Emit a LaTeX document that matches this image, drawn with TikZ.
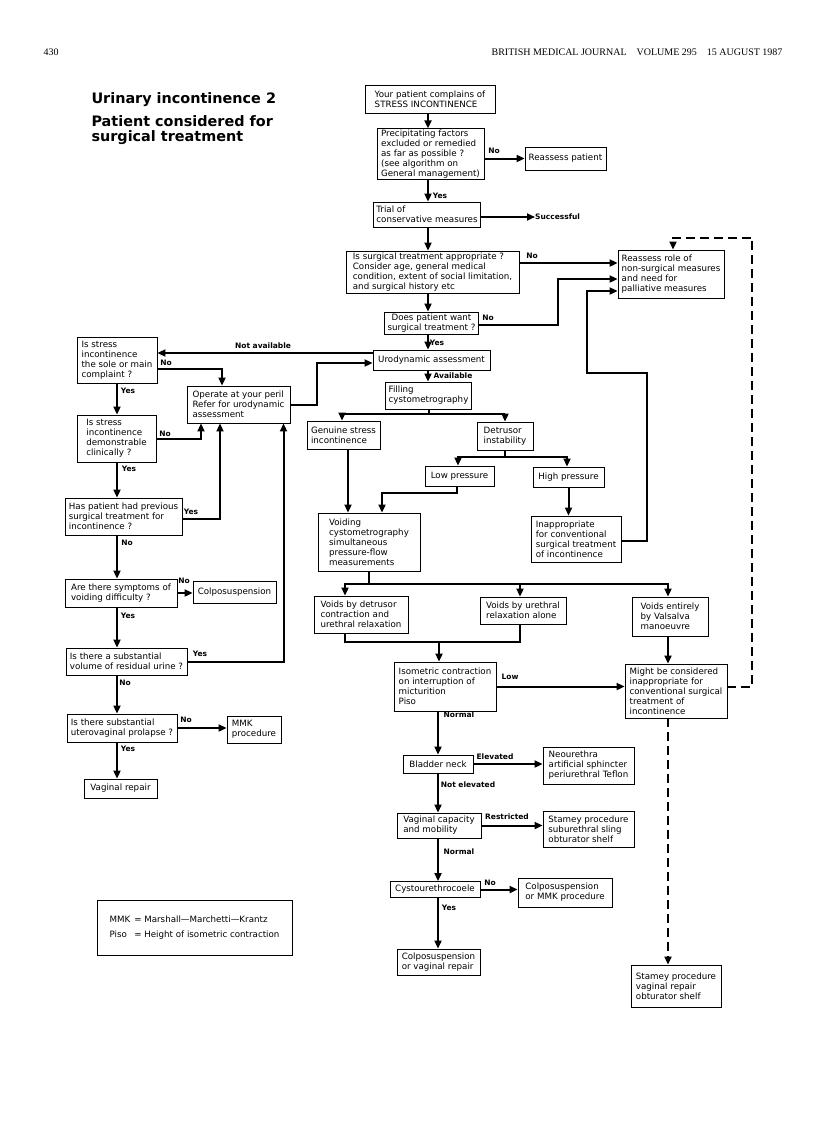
\documentclass[tikz,border=0pt]{standalone}
\usepackage{fontspec}
\setmainfont{DejaVu Sans}
\newfontfamily\jnlfont{Liberation Serif}
\usetikzlibrary{arrows.meta}

\newcommand\boxfont{\fontsize{8.7}{10}\selectfont}
\newcommand\labfont{\fontsize{7.5}{9}\selectfont\bfseries}
\newcommand\ttlfont{\fontsize{14.4}{14.6}\selectfont\bfseries}
\newcommand\hdfont{\jnlfont\fontsize{10}{12}\selectfont}

\tikzset{
  box/.style={draw,line width=0.9pt,inner xsep=3pt,inner ysep=1pt,align=left,font=\boxfont},
  lab/.style={font=\labfont,inner sep=0pt},
  link/.style={line width=2pt},
  flow/.style={link,-{Triangle[length=8pt,width=7pt]}},
  dashflow/.style={flow,dash pattern=on 9pt off 5pt}
}

\begin{document}
\begin{tikzpicture}[x=1pt,y=-1pt]
  \useasboundingbox (0,0) rectangle (816,1121);
  \fill[white] (0,0) rectangle (816,1121);

  % heading
  \node[anchor=base west,font=\hdfont] (page) at (40,56) {430};
  \node[anchor=base east,font=\hdfont] (jnl) at (786,56) {BRITISH MEDICAL JOURNAL\quad VOLUME 295\quad 15 AUGUST 1987};
  \node[anchor=base west,font=\ttlfont] (title) at (88,104) {Urinary incontinence 2};
  \node[anchor=base west,font=\ttlfont] (subtitle) at (88,127) {Patient considered for};
  \node[anchor=base west,font=\ttlfont] (subtitle2) at (88,141) {surgical treatment};

  \coordinate (col) at (428,0);
  \coordinate (lcol) at (117,0);
  \coordinate (bcol) at (438,0);

  % top column
  \node[box,minimum width=130,minimum height=28] (start) at (430,99) {Your patient complains of\\STRESS INCONTINENCE};
  \node[box,minimum width=107,minimum height=50] (precip) at (430.5,154) {Precipitating factors\\excluded or remedied\\as far as possible ?\\(see algorithm on\\General management)};
  \node[box,minimum width=81,minimum height=23] (reassp) at (565.5,158.5) {Reassess patient};
  \node[box,minimum width=100,minimum height=25] (trial) at (427,214.5) {Trial of\\conservative measures};
  \node[lab,anchor=west] (succ) at (535,217) {Successful};
  \node[box,minimum width=173,minimum height=42] (surg) at (432.5,272) {Is surgical treatment appropriate ?\\Consider age, general medical\\condition, extent of social limitation,\\and surgical history etc};
  \node[box,minimum width=106,minimum height=48] (reassr) at (671,274) {Reassess role of\\non-surgical measures\\and need for\\palliative measures};
  \node[box,minimum width=93,minimum height=22,align=center] (want) at (431.5,323) {Does patient want\\surgical treatment ?};
  \node[box,minimum width=117,minimum height=20,align=center] (urody) at (431.5,360) {Urodynamic assessment};

  \draw[flow] (start.south -| col) -- (precip.north -| col);
  \draw[flow] (precip.east |- reassp.west) -- (reassp.west);
  \draw[flow] (precip.south -| col) -- (trial.north -| col);
  \draw[flow] (succ.west -| trial.east) -- (succ.west);
  \draw[flow] (trial.south -| col) -- (surg.north -| col);
  \draw[flow] ([yshift=9pt]surg.east) -- ([yshift=9pt]surg.east -| reassr.west);
  \draw[flow] (surg.south -| col) -- (want.north -| col);
  \draw[flow] ([yshift=-2pt]want.east) -- ++(79,0) |- ([yshift=-5pt]reassr.west);
  \draw[flow] (want.south -| col) -- (urody.north -| col);
  \node[lab] at (494,151) {No}; \node[lab] at (440,196) {Yes};
  \node[lab] at (532,256) {No}; \node[lab] at (488,318) {No}; \node[lab] at (437,343) {Yes};

  % left column
  \node[box,minimum width=80,minimum height=46] (issole) at (117,360) {Is stress\\incontinence\\the sole or main\\complaint ?};
  \node[box,minimum width=103,minimum height=37] (operate) at (238.5,404.5) {Operate at your peril\\Refer for urodynamic\\assessment};
  \node[box,minimum width=79,minimum height=47] (isdemo) at (116.5,438.5) {Is stress\\incontinence\\demonstrable\\clinically ?};
  \node[box,minimum width=117,minimum height=37] (prevsurg) at (123.5,516.5) {Has patient had previous\\surgical treatment for\\incontinence ?};
  \node[box,minimum width=112,minimum height=28] (voiddiff) at (121,593) {Are there symptoms of\\voiding difficulty ?};
  \node[box,minimum width=83,minimum height=22] (colpo) at (234.5,592) {Colposuspension};
  \node[box,minimum width=121,minimum height=27] (residual) at (126.5,661.5) {Is there a substantial\\volume of residual urine ?};
  \node[box,minimum width=110,minimum height=28] (prolapse) at (122,728) {Is there substantial\\uterovaginal prolapse ?};
  \node[box,minimum width=54,minimum height=27] (mmk) at (254,729.5) {MMK\\procedure};
  \node[box,minimum width=73,minimum height=19] (vagrep) at (120.5,788.5) {Vaginal repair};

  \draw[flow] ([yshift=7pt]urody.west) -- ([yshift=7pt]urody.west -| issole.east);
  \draw[flow] ([yshift=-9pt]issole.east) -| ([xshift=-16.5pt]operate.north);
  \draw[flow] (operate.east) -- ++(27,0) |- ([yshift=-3pt]urody.west);
  \draw[flow] (isdemo.east) -| ([xshift=-37.5pt]operate.south);
  \draw[flow] ([yshift=-2.5pt]prevsurg.east) -| ([xshift=-18.5pt]operate.south);
  \draw[flow] (residual.east) -| ([xshift=45pt]operate.south);
  \draw[flow] (voiddiff.east) -- (voiddiff.east -| colpo.west);
  \draw[flow] (prolapse.east) -- (prolapse.east -| mmk.west);
  \draw[flow] (issole.south -| lcol) -- (isdemo.north -| lcol);
  \draw[flow] (isdemo.south -| lcol) -- (prevsurg.north -| lcol);
  \draw[flow] (prevsurg.south -| lcol) -- (voiddiff.north -| lcol);
  \draw[flow] (voiddiff.south -| lcol) -- (residual.north -| lcol);
  \draw[flow] (residual.south -| lcol) -- (prolapse.north -| lcol);
  \draw[flow] (prolapse.south -| lcol) -- (vagrep.north -| lcol);
  \node[lab] at (263,346) {Not available}; \node[lab] at (166,363) {No};
  \node[lab] at (165,434) {No}; \node[lab] at (191,512) {Yes};
  \node[lab] at (184,581) {No}; \node[lab] at (200,654) {Yes}; \node[lab] at (186,720) {No};
  \node[lab] at (128,391) {Yes}; \node[lab] at (129,469) {Yes}; \node[lab] at (127,543) {No};
  \node[lab] at (128,616) {Yes}; \node[lab] at (125,683) {No}; \node[lab] at (128,749) {Yes};

  % urodynamic branch
  \node[box,minimum width=85,minimum height=27] (filling) at (428.5,395.5) {Filling\\cystometrography};
  \node[box,minimum width=73,minimum height=28] (genuine) at (343.5,435) {Genuine stress\\incontinence};
  \node[box,minimum width=56,minimum height=28] (detrusor) at (505,436) {Detrusor\\instability};
  \node[box,minimum width=69,minimum height=20] (lowp) at (459.5,476) {Low pressure};
  \node[box,minimum width=71,minimum height=20] (highp) at (568.5,477) {High pressure};
  \node[box,minimum width=102,minimum height=58] (voiding) at (369,542) {Voiding\\cystometrography\\simultaneous\\pressure-flow\\measurements};
  \node[box,minimum width=90,minimum height=46] (inapp) at (576,539) {Inappropriate\\for conventional\\surgical treatment\\of incontinence};

  \draw[flow] (urody.south -| col) -- (filling.north -| col);
  \draw[link] (filling.south) -- ++(0,5);
  \draw[flow] ([yshift=-5pt]filling.south) -| ([xshift=-1.5pt]genuine.north);
  \draw[flow] ([yshift=-5pt]filling.south) -| (detrusor.north);
  \draw[link] (detrusor.south) -- ++(0,7);
  \draw[flow] ([yshift=-7pt]detrusor.south) -| ([xshift=-1.5pt]lowp.north);
  \draw[flow] ([yshift=-7pt]detrusor.south) -| ([xshift=-1.5pt]highp.north);
  \draw[flow] ([xshift=4.5pt]genuine.south) -- ([xshift=4.5pt]genuine.south |- voiding.north);
  \draw[flow] ([xshift=-2.5pt]lowp.south) -- ++(0,7) -| ([xshift=13pt]voiding.north);
  \draw[flow] (highp.south) -- (highp.south |- inapp.north);
  \draw[flow] ([yshift=-2pt]inapp.east) -- ++(26,0) |- ++(-60,-168) |- ([yshift=-17pt]reassr.west);
  \node[lab] at (453,376) {Available};

  % voiding outcomes
  \node[box,minimum width=94,minimum height=37] (vdet) at (361,614.5) {Voids by detrusor\\contraction and\\urethral relaxation};
  \node[box,minimum width=86,minimum height=27] (vureth) at (523,610.5) {Voids by urethral\\relaxation alone};
  \node[box,minimum width=76,minimum height=39] (vvals) at (670,616.5) {Voids entirely\\by Valsalva\\manoeuvre};
  \node[box,minimum width=102,minimum height=49] (isom) at (445,686.5) {Isometric contraction\\on interruption of\\micturition\\Piso};
  \node[box,minimum width=102,minimum height=54] (might) at (676,691) {Might be considered\\inappropriate for\\conventional surgical\\treatment of\\incontinence};
  \node[box,minimum width=90,minimum height=42] (stamey2) at (676,986) {Stamey procedure\\vaginal repair\\obturator shelf};

  \draw[link] (voiding.south) -- ++(0,13);
  \draw[flow] ([yshift=-13pt]voiding.south) -| ([xshift=-16pt]vdet.north);
  \draw[flow] ([yshift=-13pt]voiding.south) -| ([xshift=-3pt]vureth.north);
  \draw[flow] ([yshift=-13pt]voiding.south) -| ([xshift=-2pt]vvals.north);
  \draw[link] ([xshift=-16pt]vdet.south) -- ++(0,9) coordinate (m1) -| ([xshift=-3pt]vureth.south);
  \draw[flow] ([xshift=-6pt]isom.north |- m1) -- ([xshift=-6pt]isom.north);
  \draw[flow] (isom.east) -- (isom.east -| might.west);
  \draw[flow] ([xshift=-2pt]vvals.south) -- ([xshift=-2pt]vvals.south |- might.north);
  \draw[dashflow] ([yshift=4pt]might.east) -- ++(25,0) |- ([xshift=2pt,yshift=12pt]reassr.north) -- ([xshift=2pt]reassr.north);
  \draw[dashflow] ([xshift=-8pt]might.south) -- ([xshift=-8pt]might.south |- stamey2.north);
  \node[lab] at (510,677) {Low};

  % bottom column
  \node[box,minimum width=70,minimum height=18] (bladder) at (438,764) {Bladder neck};
  \node[box,minimum width=91,minimum height=37] (neo) at (588.5,765.5) {Neourethra\\artificial sphincter\\periurethral Teflon};
  \node[box,minimum width=84,minimum height=25] (vagcap) at (439,825.5) {Vaginal capacity\\and mobility};
  \node[box,minimum width=91,minimum height=36] (stamey1) at (588.5,829) {Stamey procedure\\suburethral sling\\obturator shelf};
  \node[box,minimum width=90,minimum height=16] (cysto) at (435,889.5) {Cystourethrocoele};
  \node[box,minimum width=94,minimum height=29] (colpmmk) at (565,892.5) {Colposuspension\\or MMK procedure};
  \node[box,minimum width=83,minimum height=26] (colpvag) at (438.5,962) {Colposuspension\\or vaginal repair};

  \draw[flow] (isom.south -| bcol) -- (bladder.north -| bcol);
  \draw[flow] (bladder.east) -- (bladder.east -| neo.west);
  \draw[flow] (bladder.south -| bcol) -- (vagcap.north -| bcol);
  \draw[flow] (vagcap.east) -- (vagcap.east -| stamey1.west);
  \draw[flow] (vagcap.south -| bcol) -- (cysto.north -| bcol);
  \draw[flow] (cysto.east) -- (cysto.east -| colpmmk.west);
  \draw[flow] (cysto.south -| bcol) -- (colpvag.north -| bcol);
  \node[lab] at (459,715) {Normal}; \node[lab] at (495,757) {Elevated};
  \node[lab] at (468,785) {Not elevated}; \node[lab] at (507,817) {Restricted};
  \node[lab] at (459,852) {Normal}; \node[lab] at (490,883) {No}; \node[lab] at (449,908) {Yes};

  % key
  \node[box,minimum width=195,minimum height=55] (key) at (194.5,927.5) {\begin{tabular}{@{}l@{\hspace{4pt}}l@{}}MMK & = Marshall---Marchetti---Krantz\\[5pt] Piso & = Height of isometric contraction\end{tabular}};
\end{tikzpicture}
\end{document}
